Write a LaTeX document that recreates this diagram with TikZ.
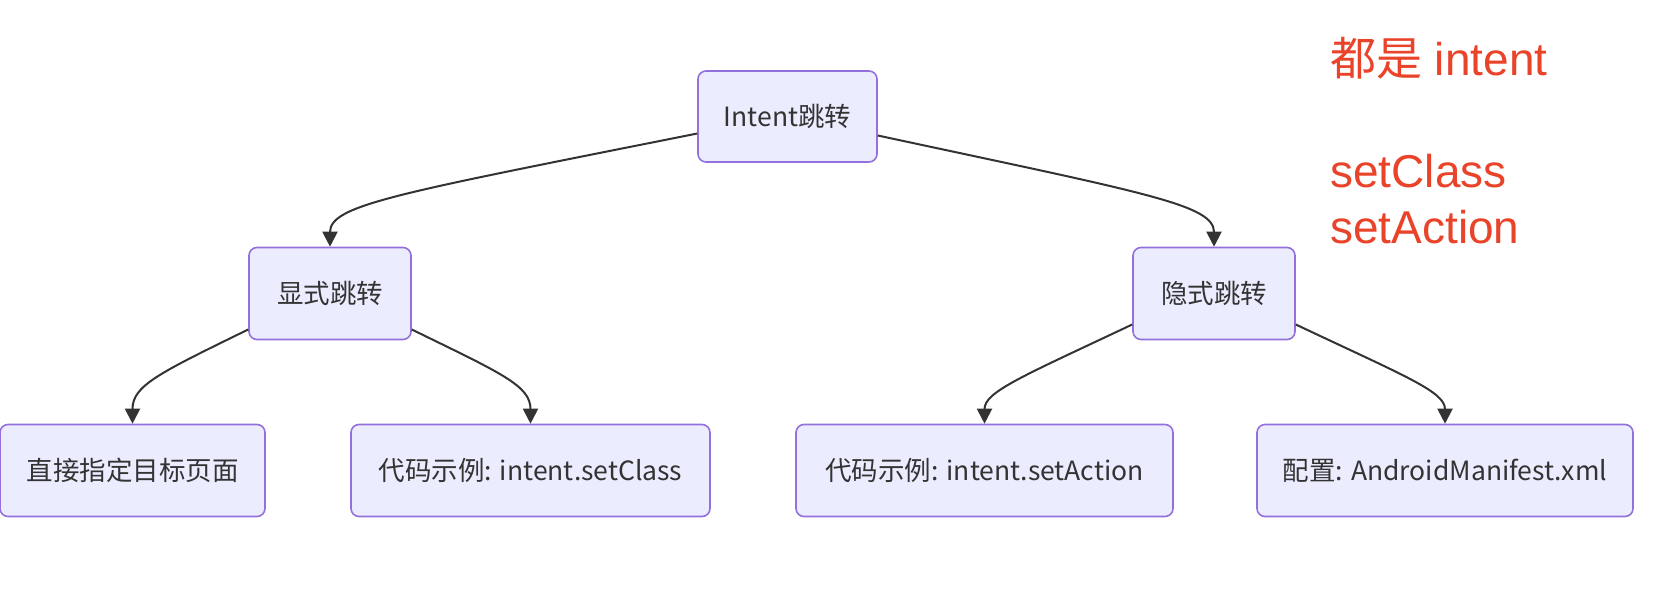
\documentclass[tikz,border=0pt]{standalone}
\usepackage{fontspec}
\setmainfont{Noto Sans CJK SC}
\newfontfamily\notefont{Liberation Sans}
\newfontfamily\notecjk{Noto Sans CJK SC}
\usetikzlibrary{arrows.meta,positioning}
\definecolor{boxfill}{HTML}{ECECFF}
\definecolor{boxline}{HTML}{9370DB}
\definecolor{edgeline}{HTML}{333333}
\definecolor{notered}{RGB}{233,67,42}

\begin{document}
\begin{tikzpicture}[x=1pt, y=-1pt,
        box/.style={draw=boxline, fill=boxfill, line width=1.6pt, rounded corners=8pt,
            minimum height=92pt, inner sep=0pt, text=edgeline, font=\fontsize{26.5}{32}\selectfont},
        link/.style={draw=edgeline, line width=2pt, -{Triangle[length=15pt, width=15pt]}},
        note/.style={text=notered, align=left, inner sep=0pt, font=\notefont\fontsize{46}{56}\selectfont}]
        \useasboundingbox (0,0) rectangle (1670,592);
        \node[box, minimum width=179pt, minimum height=91pt] (intent) at (787.5,116.5) {Intent跳转};
        \node[box, minimum width=162pt] (explicit) at (330,293.5) {显式跳转};
        \node[box, minimum width=162pt] (implicit) at (1214,293.5) {隐式跳转};
        \node[box, minimum width=265pt] (direct) at (132.5,470.5) {直接指定目标页面};
        \node[box, minimum width=359pt] (setclass) at (530.5,470.5) {代码示例: intent.setClass};
        \node[box, minimum width=377pt] (setaction) at (984.5,470.5) {代码示例: intent.setAction};
        \node[box, minimum width=376pt] (manifest) at (1445,470.5) {配置: AndroidManifest.xml};
        \draw[link] ([yshift=-17pt]intent.west) .. controls +(-300,60) and +(0,-42) .. (explicit.north);
        \draw[link] ([yshift=-19pt]intent.east) .. controls +(270,58) and +(0,-42) .. (implicit.north);
        \draw[link] ([yshift=-36pt]explicit.west) .. controls +(-90,44) and +(0,-38) .. (direct.north);
        \draw[link] ([yshift=-36pt]explicit.east) .. controls +(90,44) and +(0,-38) .. (setclass.north);
        \draw[link] ([yshift=-31pt]implicit.west) .. controls +(-110,52) and +(0,-32) .. (setaction.north);
        \draw[link] ([yshift=-31pt]implicit.east) .. controls +(110,52) and +(0,-32) .. (manifest.north);
        \node[note, anchor=base west] (note) at (1330,243) {{\notecjk 都是} intent\\[56pt]setClass\\setAction};
    \end{tikzpicture}
\end{document}
